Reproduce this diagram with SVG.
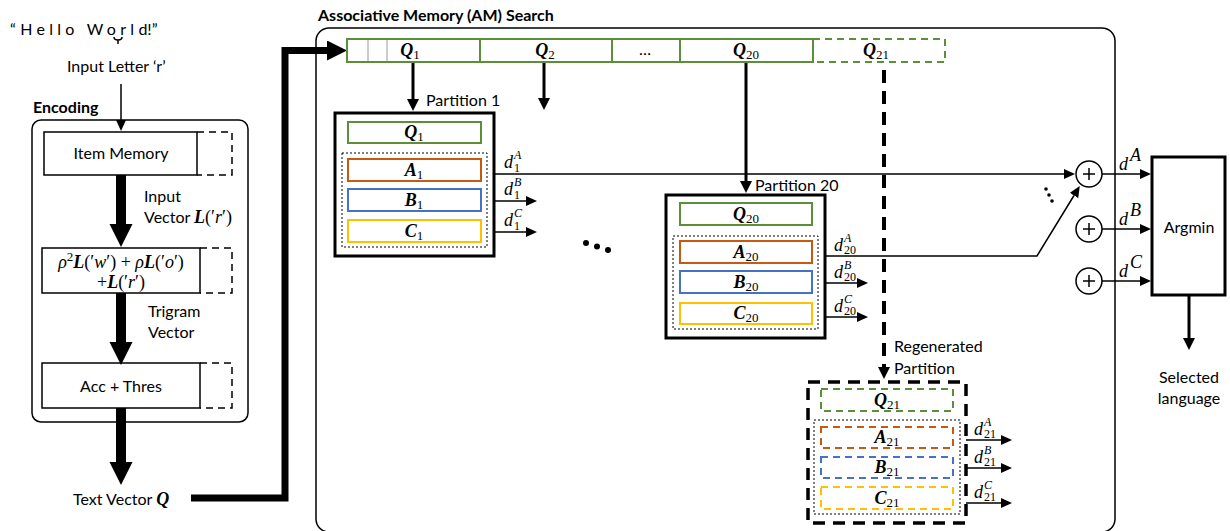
<svg xmlns="http://www.w3.org/2000/svg" width="1230" height="531" viewBox="0 0 1230 531">
<defs>
<marker id="a1" markerUnits="userSpaceOnUse" markerWidth="12" markerHeight="10" refX="0" refY="5" orient="auto"><path d="M0,0 L11,5 L0,10 z" fill="#000"/></marker>
<marker id="a2" markerUnits="userSpaceOnUse" markerWidth="13" markerHeight="12" refX="0" refY="6" orient="auto"><path d="M0,0 L12,6 L0,12 z" fill="#000"/></marker>
<marker id="a3" markerUnits="userSpaceOnUse" markerWidth="24" markerHeight="24" refX="0" refY="11.5" orient="auto"><path d="M0,0 L23,11.5 L0,23 z" fill="#000"/></marker>
<marker id="a4" markerUnits="userSpaceOnUse" markerWidth="22" markerHeight="20" refX="0" refY="10" orient="auto"><path d="M0,0 L20,10 L0,20 z" fill="#000"/></marker>
</defs>
<style>
.t{font-family:Lato,"Liberation Sans",sans-serif;font-size:16px;fill:#000}
.tb{font-weight:bold}
.m{font-family:"Liberation Serif","DejaVu Serif",serif;font-size:18px;fill:#000}
.i{font-style:italic}
.v{font-weight:bold;font-style:italic}
.s{font-size:13px;font-style:normal;font-weight:normal}
.sc{font-size:12px}
.box{fill:#fff;stroke:#000;stroke-width:1.5}
.pbox{fill:#fff;stroke:#000;stroke-width:3}
.g{fill:#fff;stroke:#5B8F3A;stroke-width:2}
.o{fill:#fff;stroke:#C55A11;stroke-width:2}
.b{fill:#fff;stroke:#4472C4;stroke-width:2}
.y{fill:#fff;stroke:#FFC000;stroke-width:2}
.dash{stroke-dasharray:7 5}
.dot{fill:none;stroke:#000;stroke-width:1;stroke-dasharray:2 2}
.ln{fill:none;stroke:#000;stroke-width:1.5}
.th{fill:none;stroke:#000;stroke-width:3}
.ext{fill:none;stroke:#000;stroke-width:1.5;stroke-dasharray:7 5}
</style>

<!-- input text -->
<g id="input">
<text class="t" x="10" y="35" font-size="14" letter-spacing="4.3">“Hello Worl<tspan letter-spacing="0">d!”</tspan></text>
<path d="M114,37 Q114,40 118,40 Q122,40 122,37 M118,40 V44" class="ln" stroke-width="1.2"/>
<text class="t" x="67" y="72">Input Letter ‘r’</text>
</g>

<!-- Encoding -->
<g id="encoding">
<text class="t tb" x="33" y="113">Encoding</text>
<rect x="32" y="120" width="216" height="302" rx="9" fill="none" stroke="#000" stroke-width="1.5"/>
</g>
<g id="item-memory">
<rect class="box" x="44" y="132" width="153" height="43"/>
<path class="ext" d="M197,132 H232 V175 H197"/>
<text class="t" x="121" y="159" text-anchor="middle">Item Memory</text>
</g>
<g id="trigram">
<rect class="box" x="42" y="248" width="158" height="45"/>
<path class="ext" d="M200,248 H232 V293 H200"/>
<text class="m" x="121" y="268" text-anchor="middle" font-size="19"><tspan class="i">ρ</tspan><tspan class="s" dy="-7">2</tspan><tspan class="v" dy="7">L</tspan>(′<tspan class="i">w</tspan>′) + <tspan class="i">ρ</tspan><tspan class="v">L</tspan>(′<tspan class="i">o</tspan>′)</text>
<text class="m" x="121" y="288" text-anchor="middle" font-size="19">+<tspan class="v">L</tspan>(′<tspan class="i">r</tspan>′)</text>
</g>
<g id="acc">
<rect class="box" x="42" y="363" width="158" height="45"/>
<path class="ext" d="M200,363 H232 V408 H200"/>
<text class="t" x="121" y="392" text-anchor="middle">Acc + Thres</text>
</g>
<g id="enc-labels">
<text class="t" x="144" y="202">Input</text>
<text class="t" x="144" y="223">Vector <tspan class="m v">L</tspan><tspan class="m">(′<tspan class="i">r</tspan>′)</tspan></text>
<text class="t" x="148" y="317">Trigram</text>
<text class="t" x="148" y="338">Vector</text>
<text class="t" x="73" y="505">Text Vector <tspan class="m v">Q</tspan></text>
</g>

<!-- AM search -->
<g id="am">
<text class="t tb" x="318" y="21">Associative Memory (AM) Search</text>
<rect x="316" y="28" width="799" height="504" rx="13" fill="none" stroke="#000" stroke-width="1.5"/>
</g>

<g id="connectors">
<line class="ln" x1="121" y1="84" x2="121" y2="120" marker-end="url(#a1)"/>
<line x1="121" y1="175" x2="121" y2="224" stroke="#000" stroke-width="10" marker-end="url(#a3)"/>
<line x1="121" y1="293" x2="121" y2="342" stroke="#000" stroke-width="10" marker-end="url(#a3)"/>
<line x1="121" y1="408" x2="121" y2="462" stroke="#000" stroke-width="10" marker-end="url(#a3)"/>
<polyline points="191,498 285,498 285,50.5 327,50.5" fill="none" stroke="#000" stroke-width="7" stroke-linejoin="miter" marker-end="url(#a4)"/>
<line class="th" x1="413" y1="62" x2="413" y2="99" marker-end="url(#a2)"/>
<line class="th" x1="544" y1="62" x2="544" y2="98" marker-end="url(#a2)"/>
<line class="th" x1="746" y1="62" x2="746" y2="181" marker-end="url(#a2)"/>
<line x1="884" y1="70" x2="884" y2="367" stroke="#000" stroke-width="4" stroke-dasharray="13 8" marker-end="url(#a2)"/>
<line class="ln" x1="494" y1="174" x2="1064" y2="174" marker-end="url(#a1)"/>
<line class="ln" x1="494" y1="201" x2="526" y2="201" marker-end="url(#a1)"/>
<line class="ln" x1="494" y1="232" x2="526" y2="232" marker-end="url(#a1)"/>
<polyline class="ln" points="825,256 1037,256 1074,195.5" marker-end="url(#a1)"/>
<line class="ln" x1="825" y1="283" x2="857" y2="283" marker-end="url(#a1)"/>
<line class="ln" x1="825" y1="317" x2="857" y2="317" marker-end="url(#a1)"/>
<line class="ln" x1="966" y1="440" x2="1001" y2="440" marker-end="url(#a1)"/>
<line class="ln" x1="966" y1="468" x2="1001" y2="468" marker-end="url(#a1)"/>
<line class="ln" x1="966" y1="503" x2="1001" y2="503" marker-end="url(#a1)"/>
<line class="ln" x1="1102" y1="174" x2="1140" y2="174" marker-end="url(#a1)"/>
<line class="ln" x1="1102" y1="229" x2="1140" y2="229" marker-end="url(#a1)"/>
<line class="ln" x1="1102" y1="281" x2="1140" y2="281" marker-end="url(#a1)"/>
<line class="th" x1="1189" y1="295" x2="1189" y2="338" marker-end="url(#a2)"/>
</g>

<!-- query bar -->
<g id="query-bar">
<rect x="347" y="39" width="466" height="23" fill="#fff" stroke="#5B8F3A" stroke-width="2"/>
<path d="M813,39 H945 V62 H813" fill="none" stroke="#5B8F3A" stroke-width="2" stroke-dasharray="7 5"/>
<line x1="368" y1="40" x2="368" y2="61" stroke="#999" stroke-width="1"/>
<line x1="387" y1="40" x2="387" y2="61" stroke="#999" stroke-width="1"/>
<line x1="480" y1="39" x2="480" y2="62" stroke="#5B8F3A" stroke-width="2"/>
<line x1="612" y1="39" x2="612" y2="62" stroke="#5B8F3A" stroke-width="2"/>
<line x1="680" y1="39" x2="680" y2="62" stroke="#5B8F3A" stroke-width="2"/>
<text class="m v" x="410" y="56" text-anchor="middle">Q<tspan class="s" dy="3">1</tspan></text>
<text class="m v" x="545" y="56" text-anchor="middle">Q<tspan class="s" dy="3">2</tspan></text>
<text class="t" x="645" y="55" text-anchor="middle" font-size="13">…</text>
<text class="m v" x="746" y="56" text-anchor="middle">Q<tspan class="s" dy="3">20</tspan></text>
<text class="m v" x="876" y="56" text-anchor="middle">Q<tspan class="s" dy="3">21</tspan></text>
</g>

<!-- Partition 1 -->
<g id="partition-1">
<text class="t" x="426" y="106">Partition 1</text>
<rect class="pbox" x="335" y="113" width="159" height="143"/>
<rect class="g" x="348" y="122" width="133" height="21"/>
<rect class="dot" x="342" y="153" width="145" height="94"/>
<rect class="o" x="348" y="159" width="133" height="22"/>
<rect class="b" x="348" y="189" width="133" height="22"/>
<rect class="y" x="348" y="220" width="133" height="22"/>
<text class="m v" x="414" y="138" text-anchor="middle">Q<tspan class="s" dy="3">1</tspan></text>
<text class="m v" x="414" y="176" text-anchor="middle">A<tspan class="s" dy="3">1</tspan></text>
<text class="m v" x="414" y="206" text-anchor="middle">B<tspan class="s" dy="3">1</tspan></text>
<text class="m v" x="414" y="237" text-anchor="middle">C<tspan class="s" dy="3">1</tspan></text>
</g>
<g id="p1-labels">
<text class="m i" x="504" y="168">d</text><text class="m i sc" x="514" y="159">A</text><text class="m sc" x="514" y="172">1</text>
<text class="m i" x="504" y="195">d</text><text class="m i sc" x="514" y="186">B</text><text class="m sc" x="514" y="199">1</text>
<text class="m i" x="504" y="226">d</text><text class="m i sc" x="514" y="217">C</text><text class="m sc" x="514" y="230">1</text>
<circle cx="586" cy="243" r="3"/><circle cx="597" cy="246.5" r="3"/><circle cx="608" cy="250" r="3"/>
</g>

<!-- Partition 20 -->
<g id="partition-20">
<text class="t" x="755" y="191">Partition 20</text>
<rect class="pbox" x="666" y="195" width="159" height="143"/>
<rect class="g" x="680" y="203" width="132" height="22"/>
<rect class="dot" x="673" y="236" width="145" height="93"/>
<rect class="o" x="680" y="241" width="132" height="22"/>
<rect class="b" x="680" y="271" width="132" height="22"/>
<rect class="y" x="680" y="303" width="132" height="21"/>
<text class="m v" x="746" y="220" text-anchor="middle">Q<tspan class="s" dy="3">20</tspan></text>
<text class="m v" x="746" y="258" text-anchor="middle">A<tspan class="s" dy="3">20</tspan></text>
<text class="m v" x="746" y="288" text-anchor="middle">B<tspan class="s" dy="3">20</tspan></text>
<text class="m v" x="746" y="319" text-anchor="middle">C<tspan class="s" dy="3">20</tspan></text>
</g>
<g id="p20-labels">
<text class="m i" x="834" y="251">d</text><text class="m i sc" x="844" y="242">A</text><text class="m sc" x="844" y="254">20</text>
<text class="m i" x="834" y="278">d</text><text class="m i sc" x="844" y="269">B</text><text class="m sc" x="844" y="281">20</text>
<text class="m i" x="834" y="312">d</text><text class="m i sc" x="844" y="303">C</text><text class="m sc" x="844" y="315">20</text>
</g>

<!-- Regenerated partition -->
<g id="partition-21">
<text class="t" x="894" y="352">Regenerated</text>
<text class="t" x="894" y="374">Partition</text>
<rect x="808" y="382" width="158" height="141" fill="#fff" stroke="#000" stroke-width="3.5" stroke-dasharray="12 8"/>
<rect class="g dash" x="821" y="389" width="132" height="22"/>
<rect class="dot" x="814" y="420" width="146" height="94"/>
<rect class="o dash" x="821" y="427" width="132" height="21"/>
<rect class="b dash" x="821" y="457" width="132" height="21"/>
<rect class="y dash" x="821" y="487" width="132" height="22"/>
<text class="m v" x="887" y="406" text-anchor="middle">Q<tspan class="s" dy="3">21</tspan></text>
<text class="m v" x="887" y="443" text-anchor="middle">A<tspan class="s" dy="3">21</tspan></text>
<text class="m v" x="887" y="473" text-anchor="middle">B<tspan class="s" dy="3">21</tspan></text>
<text class="m v" x="887" y="504" text-anchor="middle">C<tspan class="s" dy="3">21</tspan></text>
</g>
<g id="p21-labels">
<text class="m i" x="974" y="435">d</text><text class="m i sc" x="984" y="426">A</text><text class="m sc" x="984" y="438">21</text>
<text class="m i" x="974" y="463">d</text><text class="m i sc" x="984" y="454">B</text><text class="m sc" x="984" y="466">21</text>
<text class="m i" x="974" y="498">d</text><text class="m i sc" x="984" y="489">C</text><text class="m sc" x="984" y="501">21</text>
</g>

<!-- adders -->
<g id="adder-a">
<circle cx="1089" cy="174" r="13" fill="#fff" stroke="#000" stroke-width="1.5"/>
<path d="M1083,174 H1095 M1089,168 V180" class="ln"/>
</g>
<g id="adder-b">
<circle cx="1089" cy="229" r="13" fill="#fff" stroke="#000" stroke-width="1.5"/>
<path d="M1083,229 H1095 M1089,223 V235" class="ln"/>
</g>
<g id="adder-c">
<circle cx="1089" cy="281" r="13" fill="#fff" stroke="#000" stroke-width="1.5"/>
<path d="M1083,281 H1095 M1089,275 V287" class="ln"/>
</g>
<g id="adder-dots">
<circle cx="1046" cy="189" r="1.8"/><circle cx="1049" cy="195" r="1.8"/><circle cx="1052" cy="201" r="1.8"/>
</g>
<g id="sum-labels">
<text class="m i" x="1119" y="170" font-size="20">d</text><text class="m i" x="1130" y="161" font-size="13">A</text>
<text class="m i" x="1119" y="225" font-size="20">d</text><text class="m i" x="1130" y="216" font-size="13">B</text>
<text class="m i" x="1119" y="277" font-size="20">d</text><text class="m i" x="1130" y="268" font-size="13">C</text>
</g>

<!-- Argmin -->
<g id="argmin">
<rect class="pbox" x="1152" y="157" width="73" height="138"/>
<text class="t" x="1189" y="233" text-anchor="middle">Argmin</text>
</g>
<g id="output">
<text class="t" x="1189" y="383" text-anchor="middle">Selected</text>
<text class="t" x="1189" y="404" text-anchor="middle">language</text>
</g>
</svg>
